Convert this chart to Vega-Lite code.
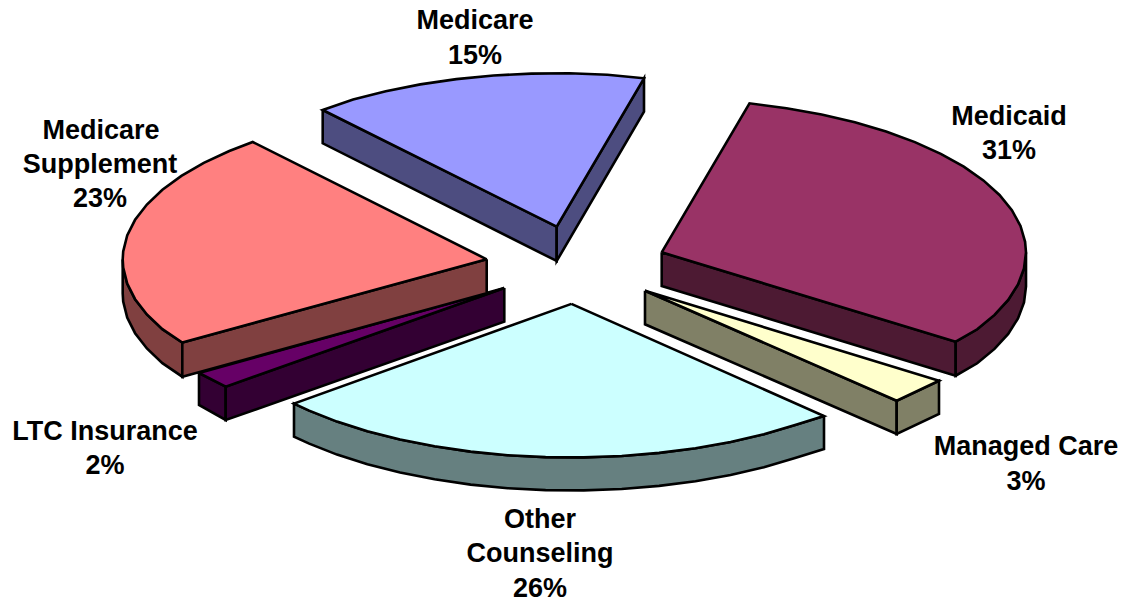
{
"$schema":"https://vega.github.io/schema/vega-lite/v6.json",
"width":1125,"height":602,
"autosize":{"type":"fit","contains":"padding"},
"padding":0,
"background":"white",
"view":{"stroke":null},
"datasets":{
"faces":[
{"face":"Medicaid front","seq":0,"h":661.7,"v":252.3},{"face":"Medicaid front","seq":1,"h":955.7,"v":341.7},{"face":"Medicaid front","seq":2,"h":955.7,"v":375.7},{"face":"Medicaid front","seq":3,"h":661.7,"v":286},{"face":"Medicaid front","seq":4,"h":661.7,"v":252.3},
{"face":"Medicaid rim","seq":0,"h":1026,"v":252.5},{"face":"Medicaid rim","seq":1,"h":1024,"v":268.5},{"face":"Medicaid rim","seq":2,"h":1018,"v":284.4},{"face":"Medicaid rim","seq":3,"h":1008.2,"v":299.9},{"face":"Medicaid rim","seq":4,"h":994.5,"v":314.9},{"face":"Medicaid rim","seq":5,"h":977.2,"v":329.3},{"face":"Medicaid rim","seq":6,"h":955.7,"v":341.7},{"face":"Medicaid rim","seq":7,"h":955.7,"v":375.7},{"face":"Medicaid rim","seq":8,"h":977.2,"v":363.3},{"face":"Medicaid rim","seq":9,"h":994.5,"v":348.9},{"face":"Medicaid rim","seq":10,"h":1008.2,"v":333.9},{"face":"Medicaid rim","seq":11,"h":1018,"v":318.4},{"face":"Medicaid rim","seq":12,"h":1024,"v":302.5},{"face":"Medicaid rim","seq":13,"h":1026,"v":286.5},{"face":"Medicaid rim","seq":14,"h":1026,"v":252.5},
{"face":"Medicaid top","seq":0,"h":661.7,"v":252.3},{"face":"Medicaid top","seq":1,"h":749.5,"v":103.3},{"face":"Medicaid top","seq":2,"h":786.5,"v":108.3},{"face":"Medicaid top","seq":3,"h":821.6,"v":114.5},{"face":"Medicaid top","seq":4,"h":854.9,"v":122.3},{"face":"Medicaid top","seq":5,"h":886.1,"v":131.5},{"face":"Medicaid top","seq":6,"h":914.9,"v":142.1},{"face":"Medicaid top","seq":7,"h":940.8,"v":153.8},{"face":"Medicaid top","seq":8,"h":963.8,"v":166.7},{"face":"Medicaid top","seq":9,"h":983.4,"v":180.4},{"face":"Medicaid top","seq":10,"h":999.5,"v":195},{"face":"Medicaid top","seq":11,"h":1011.9,"v":210.2},{"face":"Medicaid top","seq":12,"h":1020.5,"v":225.9},{"face":"Medicaid top","seq":13,"h":1025.1,"v":241.8},{"face":"Medicaid top","seq":14,"h":1026,"v":252.5},{"face":"Medicaid top","seq":15,"h":1024,"v":268.5},{"face":"Medicaid top","seq":16,"h":1018,"v":284.4},{"face":"Medicaid top","seq":17,"h":1008.2,"v":299.9},{"face":"Medicaid top","seq":18,"h":994.5,"v":314.9},{"face":"Medicaid top","seq":19,"h":977.2,"v":329.3},{"face":"Medicaid top","seq":20,"h":955.7,"v":341.7},{"face":"Medicaid top","seq":21,"h":661.7,"v":252.3},
{"face":"Medicare left","seq":0,"h":322.7,"v":110},{"face":"Medicare left","seq":1,"h":556.7,"v":226.7},{"face":"Medicare left","seq":2,"h":556.7,"v":261},{"face":"Medicare left","seq":3,"h":322.7,"v":143.3},{"face":"Medicare left","seq":4,"h":322.7,"v":110},
{"face":"Medicare right","seq":0,"h":556.7,"v":226.7},{"face":"Medicare right","seq":1,"h":644,"v":78.3},{"face":"Medicare right","seq":2,"h":644,"v":111.7},{"face":"Medicare right","seq":3,"h":556.7,"v":261},{"face":"Medicare right","seq":4,"h":556.7,"v":226.7},
{"face":"Medicare top","seq":0,"h":556.7,"v":226.7},{"face":"Medicare top","seq":1,"h":322.7,"v":110},{"face":"Medicare top","seq":2,"h":353.1,"v":99.4},{"face":"Medicare top","seq":3,"h":385.8,"v":91.2},{"face":"Medicare top","seq":4,"h":420.3,"v":84.4},{"face":"Medicare top","seq":5,"h":456.4,"v":79.1},{"face":"Medicare top","seq":6,"h":493.5,"v":75.5},{"face":"Medicare top","seq":7,"h":531.3,"v":73.6},{"face":"Medicare top","seq":8,"h":569.4,"v":73.3},{"face":"Medicare top","seq":9,"h":607.4,"v":74.7},{"face":"Medicare top","seq":10,"h":644,"v":78.3},{"face":"Medicare top","seq":11,"h":556.7,"v":226.7},
{"face":"LTC left","seq":0,"h":199,"v":373},{"face":"LTC left","seq":1,"h":225.7,"v":386.7},{"face":"LTC left","seq":2,"h":225.7,"v":420},{"face":"LTC left","seq":3,"h":199,"v":405},{"face":"LTC left","seq":4,"h":199,"v":373},
{"face":"LTC front","seq":0,"h":504.3,"v":288},{"face":"LTC front","seq":1,"h":225.7,"v":386.7},{"face":"LTC front","seq":2,"h":225.7,"v":420},{"face":"LTC front","seq":3,"h":504.3,"v":321.7},{"face":"LTC front","seq":4,"h":504.3,"v":288},
{"face":"LTC top","seq":0,"h":504.3,"v":288},{"face":"LTC top","seq":1,"h":225.7,"v":386.7},{"face":"LTC top","seq":2,"h":199,"v":373},{"face":"LTC top","seq":3,"h":504.3,"v":288},
{"face":"Supplement rim","seq":0,"h":122.7,"v":259.5},{"face":"Supplement rim","seq":1,"h":123.2,"v":267.5},{"face":"Supplement rim","seq":2,"h":127.2,"v":283.5},{"face":"Supplement rim","seq":3,"h":135.1,"v":299.2},{"face":"Supplement rim","seq":4,"h":146.9,"v":314.5},{"face":"Supplement rim","seq":5,"h":162.4,"v":329.2},{"face":"Supplement rim","seq":6,"h":182.3,"v":342.5},{"face":"Supplement rim","seq":7,"h":182.3,"v":376.7},{"face":"Supplement rim","seq":8,"h":162.4,"v":363.2},{"face":"Supplement rim","seq":9,"h":146.9,"v":348.5},{"face":"Supplement rim","seq":10,"h":135.1,"v":333.2},{"face":"Supplement rim","seq":11,"h":127.2,"v":317.5},{"face":"Supplement rim","seq":12,"h":123.2,"v":301.5},{"face":"Supplement rim","seq":13,"h":122.7,"v":293.5},{"face":"Supplement rim","seq":14,"h":122.7,"v":259.5},
{"face":"Supplement front","seq":0,"h":486.7,"v":259.3},{"face":"Supplement front","seq":1,"h":182.3,"v":342.5},{"face":"Supplement front","seq":2,"h":182.3,"v":376.7},{"face":"Supplement front","seq":3,"h":486.7,"v":293.3},{"face":"Supplement front","seq":4,"h":486.7,"v":259.3},
{"face":"Supplement top","seq":0,"h":486.7,"v":259.3},{"face":"Supplement top","seq":1,"h":182.3,"v":342.5},{"face":"Supplement top","seq":2,"h":162.4,"v":329.2},{"face":"Supplement top","seq":3,"h":146.9,"v":314.5},{"face":"Supplement top","seq":4,"h":135.1,"v":299.2},{"face":"Supplement top","seq":5,"h":127.2,"v":283.5},{"face":"Supplement top","seq":6,"h":123.2,"v":267.5},{"face":"Supplement top","seq":7,"h":122.7,"v":259.5},{"face":"Supplement top","seq":8,"h":123.2,"v":251.5},{"face":"Supplement top","seq":9,"h":127.2,"v":235.5},{"face":"Supplement top","seq":10,"h":135.1,"v":219.8},{"face":"Supplement top","seq":11,"h":146.9,"v":204.5},{"face":"Supplement top","seq":12,"h":162.4,"v":189.8},{"face":"Supplement top","seq":13,"h":181.4,"v":175.9},{"face":"Supplement top","seq":14,"h":203.8,"v":162.9},{"face":"Supplement top","seq":15,"h":229.3,"v":151},{"face":"Supplement top","seq":16,"h":252.7,"v":142},{"face":"Supplement top","seq":17,"h":486.7,"v":259.3},
{"face":"Managed front","seq":0,"h":645,"v":290.7},{"face":"Managed front","seq":1,"h":896.7,"v":400.7},{"face":"Managed front","seq":2,"h":896.7,"v":434},{"face":"Managed front","seq":3,"h":645,"v":324.3},{"face":"Managed front","seq":4,"h":645,"v":290.7},
{"face":"Managed right","seq":0,"h":896.7,"v":400.7},{"face":"Managed right","seq":1,"h":939,"v":380.7},{"face":"Managed right","seq":2,"h":939,"v":414},{"face":"Managed right","seq":3,"h":896.7,"v":434},{"face":"Managed right","seq":4,"h":896.7,"v":400.7},
{"face":"Managed top","seq":0,"h":645,"v":290.7},{"face":"Managed top","seq":1,"h":939,"v":380.7},{"face":"Managed top","seq":2,"h":896.7,"v":400.7},{"face":"Managed top","seq":3,"h":645,"v":290.7},
{"face":"Other rim","seq":0,"h":824,"v":416},{"face":"Other rim","seq":1,"h":795.1,"v":425},{"face":"Other rim","seq":2,"h":763.9,"v":434.2},{"face":"Other rim","seq":3,"h":730.6,"v":442},{"face":"Other rim","seq":4,"h":695.5,"v":448.2},{"face":"Other rim","seq":5,"h":659.1,"v":452.9},{"face":"Other rim","seq":6,"h":621.7,"v":456},{"face":"Other rim","seq":7,"h":583.7,"v":457.4},{"face":"Other rim","seq":8,"h":545.6,"v":457.1},{"face":"Other rim","seq":9,"h":507.8,"v":455.2},{"face":"Other rim","seq":10,"h":470.7,"v":451.6},{"face":"Other rim","seq":11,"h":434.6,"v":446.3},{"face":"Other rim","seq":12,"h":400.1,"v":439.5},{"face":"Other rim","seq":13,"h":367.4,"v":431.3},{"face":"Other rim","seq":14,"h":337,"v":421.6},{"face":"Other rim","seq":15,"h":309.2,"v":410.6},{"face":"Other rim","seq":16,"h":294,"v":403.6},{"face":"Other rim","seq":17,"h":294,"v":436.6},{"face":"Other rim","seq":18,"h":309.2,"v":443.6},{"face":"Other rim","seq":19,"h":337,"v":454.6},{"face":"Other rim","seq":20,"h":367.4,"v":464.3},{"face":"Other rim","seq":21,"h":400.1,"v":472.5},{"face":"Other rim","seq":22,"h":434.6,"v":479.3},{"face":"Other rim","seq":23,"h":470.7,"v":484.6},{"face":"Other rim","seq":24,"h":507.8,"v":488.2},{"face":"Other rim","seq":25,"h":545.6,"v":490.1},{"face":"Other rim","seq":26,"h":583.7,"v":490.4},{"face":"Other rim","seq":27,"h":621.7,"v":489},{"face":"Other rim","seq":28,"h":659.1,"v":485.9},{"face":"Other rim","seq":29,"h":695.5,"v":481.2},{"face":"Other rim","seq":30,"h":730.6,"v":475},{"face":"Other rim","seq":31,"h":763.9,"v":467.2},{"face":"Other rim","seq":32,"h":795.1,"v":458},{"face":"Other rim","seq":33,"h":824,"v":449},{"face":"Other rim","seq":34,"h":824,"v":416},
{"face":"Other top","seq":0,"h":571.4,"v":303.9},{"face":"Other top","seq":1,"h":824,"v":416},{"face":"Other top","seq":2,"h":795.1,"v":425},{"face":"Other top","seq":3,"h":763.9,"v":434.2},{"face":"Other top","seq":4,"h":730.6,"v":442},{"face":"Other top","seq":5,"h":695.5,"v":448.2},{"face":"Other top","seq":6,"h":659.1,"v":452.9},{"face":"Other top","seq":7,"h":621.7,"v":456},{"face":"Other top","seq":8,"h":583.7,"v":457.4},{"face":"Other top","seq":9,"h":545.6,"v":457.1},{"face":"Other top","seq":10,"h":507.8,"v":455.2},{"face":"Other top","seq":11,"h":470.7,"v":451.6},{"face":"Other top","seq":12,"h":434.6,"v":446.3},{"face":"Other top","seq":13,"h":400.1,"v":439.5},{"face":"Other top","seq":14,"h":367.4,"v":431.3},{"face":"Other top","seq":15,"h":337,"v":421.6},{"face":"Other top","seq":16,"h":309.2,"v":410.6},{"face":"Other top","seq":17,"h":294,"v":403.6},{"face":"Other top","seq":18,"h":571.4,"v":303.9}
],
"labels":[
{"text":"Medicare","h":475,"v":21},{"text":"15%","h":475,"v":56},
{"text":"Medicaid","h":1009,"v":117},{"text":"31%","h":1009,"v":151},
{"text":"Medicare","h":101,"v":131},{"text":"Supplement","h":100,"v":165},{"text":"23%","h":100,"v":199},
{"text":"LTC Insurance","h":105,"v":432},{"text":"2%","h":105,"v":466},
{"text":"Managed Care","h":1026,"v":447},{"text":"3%","h":1026,"v":482},
{"text":"Other","h":540,"v":520},{"text":"Counseling","h":540,"v":554},{"text":"26%","h":540,"v":589}
]
},
"layer":[
{
"data":{"name":"faces"},
"mark":{"type":"line","stroke":"black","strokeWidth":2.6,"strokeJoin":"miter","interpolate":"linear","clip":false},
"encoding":{
"x":{"field":"h","type":"quantitative","scale":{"domain":[0,1125],"nice":false,"zero":false},"axis":null},
"y":{"field":"v","type":"quantitative","scale":{"domain":[602,0],"nice":false,"zero":false},"axis":null},
"order":{"field":"seq","type":"quantitative"},
"fill":{"field":"face","type":"nominal","legend":null,"scale":{
"domain":["Medicaid front","Medicaid rim","Medicaid top","Medicare left","Medicare right","Medicare top","LTC left","LTC front","LTC top","Supplement rim","Supplement front","Supplement top","Managed front","Managed right","Managed top","Other rim","Other top"],
"range":["#4d1a33","#4d1a33","#993366","#4d4d80","#4d4d80","#9999ff","#330033","#330033","#660066","#804040","#804040","#ff8080","#808066","#808066","#ffffcc","#668080","#ccffff"]}}
}
},
{
"data":{"name":"labels"},
"mark":{"type":"text","font":"Liberation Sans","fontWeight":"bold","fontSize":27,"align":"center","baseline":"middle","color":"black"},
"encoding":{
"x":{"field":"h","type":"quantitative","scale":{"domain":[0,1125],"nice":false,"zero":false},"axis":null},
"y":{"field":"v","type":"quantitative","scale":{"domain":[602,0],"nice":false,"zero":false},"axis":null},
"text":{"field":"text","type":"nominal"}
}
}
]
}
